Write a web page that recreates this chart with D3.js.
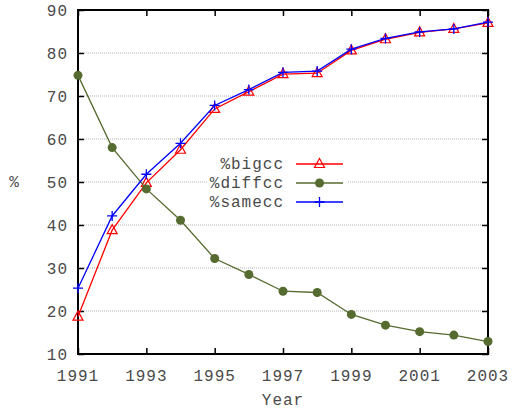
<!DOCTYPE html>
<html><head><meta charset="utf-8">
<script src="https://cdn.jsdelivr.net/npm/d3@7"></script>
<style>body{margin:0;background:#fff}svg{display:block}</style>
</head><body><svg id="c" width="513" height="409"></svg>
<script>
const years = [1991,1992,1993,1994,1995,1996,1997,1998,1999,2000,2001,2002,2003];
const bigcc = [18.7,38.8,49.8,57.5,67.0,71.0,75.1,75.3,80.6,83.2,84.8,85.6,87.0];
const diffcc = [74.8,58.0,48.4,41.1,32.2,28.5,24.6,24.3,19.2,16.7,15.2,14.4,12.9];
const samecc = [25.3,42.1,51.8,59.0,67.8,71.5,75.5,75.8,80.9,83.4,84.9,85.6,87.2];
const xTicks = [1991,1993,1995,1997,1999,2001,2003];
const yTicks = [10,20,30,40,50,60,70,80,90];
const seriesNames = ["%bigcc","%diffcc","%samecc"];
const seriesColors = ["#ff0000","#556b2f","#0000ff"];

const svg = d3.select("#c");
const L=78,R=488,T=10,B=354;
const x = d3.scaleLinear().domain([1991,2003]).range([L,R]);
const y = d3.scaleLinear().domain([10,90]).range([B,T]);
const font = "'Liberation Mono', monospace";
const txt = "#4a4a4a";

// grid
svg.append("g").selectAll("line").data(yTicks.filter(v=>v>10&&v<90)).join("line")
  .attr("x1",L).attr("x2",R).attr("y1",d=>y(d)).attr("y2",d=>y(d))
  .attr("stroke","#b0b0b0").attr("stroke-width",1).attr("stroke-dasharray","1,1");

// legend background
svg.append("rect").attr("x",207).attr("y",152).attr("width",140).attr("height",60).attr("fill","#fff");

// axes
const ax = (g, axis) => g.call(axis).call(g=>g.select(".domain").remove());
const tl = 6;
svg.append("g").attr("transform",`translate(0,${B})`).call(g=>ax(g,d3.axisTop(x).tickValues(xTicks).tickSize(tl).tickFormat("")));
svg.append("g").attr("transform",`translate(0,${T})`).call(g=>ax(g,d3.axisBottom(x).tickValues(xTicks).tickSize(tl).tickFormat("")));
svg.append("g").attr("transform",`translate(${L},0)`).call(g=>ax(g,d3.axisRight(y).tickValues(yTicks).tickSize(tl).tickFormat("")));
svg.append("g").attr("transform",`translate(${R},0)`).call(g=>ax(g,d3.axisLeft(y).tickValues(yTicks).tickSize(tl).tickFormat("")));
svg.selectAll(".tick line").attr("stroke","#000").attr("stroke-width",1.5);

// tick labels
svg.append("g").selectAll("text").data(xTicks).join("text")
  .attr("x",d=>x(d)).attr("y",B+27).attr("text-anchor","middle")
  .attr("font-family",font).attr("font-size",16).attr("letter-spacing",1).attr("fill",txt).text(d=>d);
svg.append("g").selectAll("text").data(yTicks).join("text")
  .attr("x",L-10).attr("y",d=>y(d)+6).attr("text-anchor","end")
  .attr("font-family",font).attr("font-size",16).attr("letter-spacing",1).attr("fill",txt).text(d=>d);
svg.append("text").attr("x",(L+R)/2).attr("y",405).attr("text-anchor","middle")
  .attr("font-family",font).attr("font-size",16).attr("letter-spacing",1).attr("fill",txt).text("Year");
svg.append("text").attr("x",14).attr("y",187).attr("text-anchor","middle")
  .attr("font-family",font).attr("font-size",16).attr("fill",txt).text("%");

// border
svg.append("rect").attr("x",L).attr("y",T).attr("width",R-L).attr("height",B-T)
  .attr("fill","none").attr("stroke","#000").attr("stroke-width",2);

const data = [bigcc,diffcc,samecc];
const line = d3.line().x((d,i)=>x(years[i])).y(d=>y(d));
function marker(g, k, cx, cy){
  const c = seriesColors[k];
  if(k===0){
    g.append("path").attr("d",`M${cx},${cy-5.5}L${cx+5},${cy+3.5}L${cx-5},${cy+3.5}Z`)
      .attr("fill","none").attr("stroke",c).attr("stroke-width",1.2);
  } else if(k===1){
    g.append("circle").attr("cx",cx).attr("cy",cy).attr("r",4.5).attr("fill",c);
  } else {
    g.append("path").attr("d",`M${cx-5},${cy}H${cx+5}M${cx},${cy-5}V${cy+5}`)
      .attr("stroke",c).attr("stroke-width",1.3);
  }
}
data.forEach((vals,k)=>{
  const g = svg.append("g");
  g.append("path").datum(vals).attr("d",line).attr("fill","none")
    .attr("stroke",seriesColors[k]).attr("stroke-width",1.3);
  vals.forEach((v,i)=>marker(g,k,x(years[i]),y(v)));
});

// legend
const ly = [164,183,202];
seriesNames.forEach((n,k)=>{
  svg.append("text").attr("x",284).attr("y",ly[k]+5).attr("text-anchor","end")
    .attr("font-family",font).attr("font-size",16).attr("letter-spacing",1).attr("fill",txt).text(n);
  svg.append("line").attr("x1",296).attr("x2",343).attr("y1",ly[k]).attr("y2",ly[k])
    .attr("stroke",seriesColors[k]).attr("stroke-width",1.3);
  marker(svg,k,319.5,ly[k]);
});
</script></body></html>
